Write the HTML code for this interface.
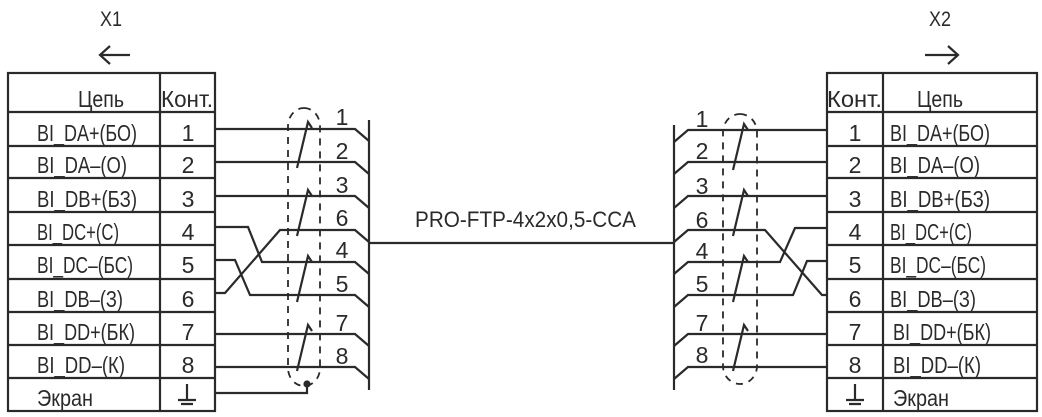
<!DOCTYPE html>
<html><head><meta charset="utf-8"><style>
html,body{margin:0;padding:0;background:#fff;}
svg{display:block;}
text{font-family:"Liberation Sans",sans-serif;fill:#2a2a2a;font-size:23px;}
</style></head><body>
<svg width="1042" height="417" viewBox="0 0 1042 417" xmlns="http://www.w3.org/2000/svg">
<g stroke="#2a2a2a" stroke-width="2.2" fill="none">
<rect x="8" y="73" width="207" height="338"/>
<line x1="160" y1="73" x2="160" y2="411"/>
<path d="M8 112H215M8 146H215M8 178H215M8 212H215M8 245H215M8 279H215M8 312H215M8 345H215M8 378H215"/>
<rect x="827" y="73" width="210" height="338"/>
<line x1="883" y1="73" x2="883" y2="411"/>
<path d="M827 112H1037M827 146H1037M827 178H1037M827 212H1037M827 245H1037M827 279H1037M827 312H1037M827 345H1037M827 378H1037"/>
<path d="M100 55H130M110 46L100 55L110 64"/>
<path d="M925 55H958M948 46L958 55L948 64"/>
<line x1="369" y1="120" x2="369" y2="390"/>
<line x1="369" y1="243" x2="674" y2="243"/>
<path d="M215 129H355L369 141"/>
<path d="M215 162H355L369 174"/>
<path d="M215 196H355L369 208"/>
<path d="M215 227H248L262 262H355L369 274"/>
<path d="M215 260H235L250 295H355L369 307"/>
<path d="M215 293H225L280 230H355L369 242"/>
<path d="M215 334H355L369 346"/>
<path d="M215 367H355L369 379"/>
<path d="M215 393H307V384"/>
<line x1="674" y1="125" x2="674" y2="390"/>
<path d="M674 142L688 130H827"/>
<path d="M674 174L688 162H827"/>
<path d="M674 208L688 196H827"/>
<path d="M674 242L688 230H765L822 295H827"/>
<path d="M674 274L688 262H780L795 228H827"/>
<path d="M674 307L688 295H793L807 261H827"/>
<path d="M674 346L688 334H827"/>
<path d="M674 379L688 367H827"/>
<g stroke-dasharray="7,6" stroke-width="1.8">
<rect x="288" y="108" width="32" height="278" rx="16" ry="18"/>
<rect x="723" y="114" width="34" height="270" rx="17" ry="18"/>
</g>
<circle cx="307" cy="384" r="2.5" fill="#2a2a2a"/>
<path d="M297 168L308 122L312 128"/>
<path d="M297 236L308 190L312 196"/>
<path d="M297 302L308 256L312 262"/>
<path d="M297 371L308 325L312 331"/>
<path d="M733 170L744 124L748 130"/>
<path d="M733 236L744 190L748 196"/>
<path d="M733 302L744 256L748 262"/>
<path d="M733 371L744 325L748 331"/>
<path d="M187 384V400M178 400H196M181 404H193"/>
<path d="M855 384V400M846 400H864M849 404H861"/>
</g>
<text x="100" y="26" textLength="22" lengthAdjust="spacingAndGlyphs" style="font-size:21px">X1</text>
<text x="929" y="26" textLength="22" lengthAdjust="spacingAndGlyphs" style="font-size:21px">X2</text>
<text x="415" y="227" textLength="221" lengthAdjust="spacingAndGlyphs" style="font-size:22px">PRO-FTP-4x2x0,5-CCA</text>
<g>
<text x="78" y="107" textLength="46" lengthAdjust="spacingAndGlyphs">Цепь</text>
<text x="161" y="107" textLength="52" lengthAdjust="spacingAndGlyphs">Конт.</text>
<text x="37" y="141" textLength="100" lengthAdjust="spacingAndGlyphs">BI_DA+(БО)</text>
<text x="37" y="173" textLength="90" lengthAdjust="spacingAndGlyphs">BI_DA–(О)</text>
<text x="37" y="207" textLength="100" lengthAdjust="spacingAndGlyphs">BI_DB+(БЗ)</text>
<text x="37" y="240" textLength="82" lengthAdjust="spacingAndGlyphs">BI_DC+(С)</text>
<text x="37" y="273" textLength="96" lengthAdjust="spacingAndGlyphs">BI_DC–(БС)</text>
<text x="37" y="307" textLength="86" lengthAdjust="spacingAndGlyphs">BI_DB–(З)</text>
<text x="37" y="340" textLength="98" lengthAdjust="spacingAndGlyphs">BI_DD+(БК)</text>
<text x="37" y="373" textLength="88" lengthAdjust="spacingAndGlyphs">BI_DD–(К)</text>
<text x="37" y="406" textLength="56" lengthAdjust="spacingAndGlyphs">Экран</text>
</g>
<g text-anchor="middle">
<text x="188" y="141">1</text><text x="188" y="173">2</text><text x="188" y="207">3</text>
<text x="188" y="240">4</text><text x="188" y="273">5</text><text x="188" y="307">6</text>
<text x="188" y="340">7</text><text x="188" y="373">8</text>
<text x="855" y="141">1</text><text x="855" y="173">2</text><text x="855" y="207">3</text>
<text x="855" y="240">4</text><text x="855" y="273">5</text><text x="855" y="307">6</text>
<text x="855" y="340">7</text><text x="855" y="373">8</text>
<text x="342" y="125">1</text><text x="342" y="159">2</text><text x="342" y="193">3</text>
<text x="342" y="226">6</text><text x="342" y="258">4</text><text x="342" y="292">5</text>
<text x="342" y="331">7</text><text x="342" y="364">8</text>
<text x="702" y="127">1</text><text x="702" y="159">2</text><text x="702" y="194">3</text>
<text x="702" y="228">6</text><text x="702" y="259">4</text><text x="702" y="292">5</text>
<text x="702" y="331">7</text><text x="702" y="363">8</text>
</g>
<g>
<text x="827" y="107" textLength="55" lengthAdjust="spacingAndGlyphs">Конт.</text>
<text x="917" y="107" textLength="46" lengthAdjust="spacingAndGlyphs">Цепь</text>
<text x="890" y="141" textLength="100" lengthAdjust="spacingAndGlyphs">BI_DA+(БО)</text>
<text x="890" y="173" textLength="90" lengthAdjust="spacingAndGlyphs">BI_DA–(О)</text>
<text x="890" y="207" textLength="100" lengthAdjust="spacingAndGlyphs">BI_DB+(БЗ)</text>
<text x="890" y="240" textLength="82" lengthAdjust="spacingAndGlyphs">BI_DC+(С)</text>
<text x="890" y="273" textLength="96" lengthAdjust="spacingAndGlyphs">BI_DC–(БС)</text>
<text x="890" y="307" textLength="86" lengthAdjust="spacingAndGlyphs">BI_DB–(З)</text>
<text x="893" y="340" textLength="98" lengthAdjust="spacingAndGlyphs">BI_DD+(БК)</text>
<text x="893" y="373" textLength="88" lengthAdjust="spacingAndGlyphs">BI_DD–(К)</text>
<text x="893" y="406" textLength="56" lengthAdjust="spacingAndGlyphs">Экран</text>
</g>
</svg>
</body></html>
